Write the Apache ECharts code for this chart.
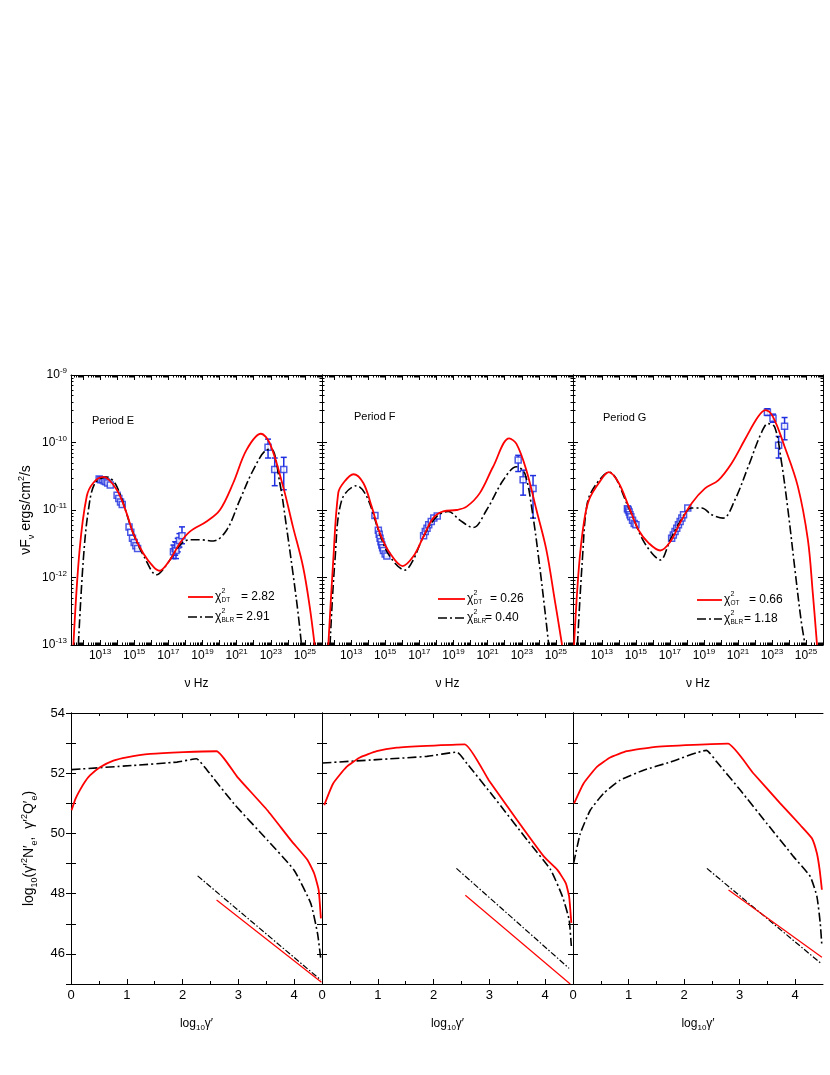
<!DOCTYPE html>
<html>
<head>
<meta charset="utf-8">
<script src="https://cdn.jsdelivr.net/npm/echarts@6/dist/echarts.min.js"></script>
<style>
html,body{margin:0;padding:0;background:#fff;}
#chart{width:830px;height:1075px;}
</style>
</head>
<body>
<div id="chart"></div>
<script>
// ---------- tick labels ----------
const sedXLabels = [13, 15, 17, 19, 21, 23, 25];          // log10(nu)
const sedYLabels = [-13, -12, -11, -10, -9];              // log10(nuFnu)
const eldXLabels = [0, 1, 2, 3, 4];                       // log10(gamma')
const eldYLabels = [46, 48, 50, 52, 54];
const periodNames = ['Period E', 'Period F', 'Period G'];
const chiDT = ['2.82', '0.26', '0.66'];
const chiDTsub = ['DT', 'DT', 'OT'];
const chiBLR = ['2.91', '0.40', '1.18'];

// ---------- Period E SED (log10 nu, log10 nuFnu) ----------
const E_dt_nu  = [11.44, 11.8, 12.22, 12.6, 13.19, 13.98, 14.56, 14.95, 15.53, 16.12, 16.47, 17.09, 17.68, 18.26, 19.24, 20.02, 20.8, 21.58, 22.42, 22.94, 23.72, 24.3, 24.89, 25.28, 25.57];
const E_dt_f   = [-13.0, -11.6, -10.80, -10.6, -10.51, -10.70, -11.05, -11.35, -11.64, -11.84, -11.90, -11.74, -11.49, -11.32, -11.17, -11.0, -10.60, -10.11, -9.87, -10.01, -10.65, -11.25, -11.84, -12.43, -13.0];
const E_blr_nu = [11.73, 12.02, 12.32, 12.71, 13.39, 13.98, 14.95, 15.6, 16.31, 16.9, 17.68, 18.26, 18.84, 19.63, 20.41, 21.19, 21.97, 22.75, 23.04, 23.53, 23.92, 24.3, 24.6, 24.8];
const E_blr_f  = [-13.0, -11.74, -11.0, -10.6, -10.51, -10.65, -11.35, -11.70, -11.96, -11.81, -11.52, -11.44, -11.44, -11.46, -11.30, -10.85, -10.41, -10.11, -10.1, -10.60, -11.25, -11.94, -12.53, -13.0];
const E_obs_nu = [12.95, 13.05, 13.15, 13.25, 13.35, 13.45, 13.6, 14.0, 14.1, 14.2, 14.3, 14.7, 14.8, 14.9, 15.0, 15.1, 15.2, 17.3, 17.4, 17.45, 17.55, 17.65, 17.8, 22.84, 23.23, 23.76];
const E_obs_f  = [-10.54, -10.55, -10.55, -10.57, -10.58, -10.60, -10.63, -10.78, -10.83, -10.88, -10.92, -11.25, -11.33, -11.42, -11.48, -11.53, -11.57, -11.62, -11.57, -11.60, -11.52, -11.45, -11.38, -10.07, -10.40, -10.40];
const E_obs_hi = [null, null, null, null, null, null, null, null, null, null, null, null, null, null, null, null, null, -11.52, -11.47, -11.48, -11.42, -11.35, -11.25, -9.95, -10.23, -10.22];
const E_obs_lo = [null, null, null, null, null, null, null, null, null, null, null, null, null, null, null, null, null, -11.72, -11.67, -11.72, -11.62, -11.55, -11.50, -10.23, -10.64, -10.70];

// ---------- Period F SED ----------
const F_dt_nu  = [11.67, 11.96, 12.25, 12.55, 13.14, 13.72, 14.21, 14.70, 15.28, 16.02, 16.64, 17.23, 17.81, 18.40, 19.18, 19.77, 20.54, 21.32, 22.26, 22.69, 23.27, 23.86, 24.44, 24.93, 25.36];
const F_dt_f   = [-13.0, -11.74, -10.75, -10.60, -10.47, -10.60, -10.95, -11.35, -11.64, -11.83, -11.69, -11.40, -11.12, -11.02, -11.0, -10.95, -10.75, -10.36, -9.94, -10.02, -10.41, -11.0, -11.59, -12.33, -13.0];
const F_blr_nu = [11.77, 12.06, 12.46, 13.33, 13.92, 14.70, 15.28, 16.16, 16.64, 17.23, 18.01, 18.69, 19.37, 20.15, 20.94, 21.91, 22.69, 23.18, 23.66, 24.05, 24.35, 24.58];
const F_blr_f  = [-13.0, -11.74, -10.85, -10.64, -10.80, -11.37, -11.69, -11.89, -11.74, -11.40, -11.10, -11.02, -11.15, -11.26, -11.0, -10.56, -10.36, -10.46, -11.10, -11.84, -12.48, -13.0];
const F_obs_nu = [14.40, 14.6, 14.65, 14.7, 14.75, 14.8, 14.85, 14.9, 15.0, 15.1, 17.25, 17.35, 17.45, 17.55, 17.7, 17.85, 18.05, 22.79, 23.08, 23.66];
const F_obs_f  = [-11.08, -11.30, -11.36, -11.42, -11.47, -11.52, -11.56, -11.60, -11.65, -11.68, -11.38, -11.32, -11.27, -11.22, -11.17, -11.12, -11.09, -10.26, -10.55, -10.68];
const F_obs_hi = [null, null, null, null, null, null, null, null, null, null, null, null, null, null, null, null, null, -10.19, -10.41, -10.49];
const F_obs_lo = [null, null, null, null, null, null, null, null, null, null, null, null, null, null, null, null, null, -10.43, -10.78, -11.12];

// ---------- Period G SED ----------
const G_dt_nu  = [11.36, 11.65, 11.95, 12.24, 12.82, 13.41, 13.99, 14.58, 15.16, 15.75, 16.43, 17.02, 17.60, 18.28, 19.06, 19.84, 20.62, 21.40, 22.18, 22.61, 23.06, 23.74, 24.52, 25.11, 25.40, 25.65];
const G_dt_f   = [-13.0, -11.84, -11.17, -10.85, -10.60, -10.44, -10.60, -10.95, -11.30, -11.49, -11.60, -11.47, -11.19, -10.90, -10.68, -10.56, -10.31, -9.96, -9.62, -9.52, -9.62, -10.06, -10.65, -11.44, -12.23, -13.0];
const G_blr_nu = [11.56, 11.85, 12.14, 12.63, 13.41, 14.58, 15.36, 15.94, 16.43, 17.02, 17.60, 18.28, 18.87, 19.45, 20.13, 20.82, 21.60, 22.37, 22.77, 23.16, 23.54, 23.94, 24.33, 24.71, 24.95];
const G_blr_f  = [-13.0, -11.74, -10.90, -10.63, -10.44, -10.97, -11.42, -11.64, -11.74, -11.44, -11.17, -10.97, -10.97, -11.07, -11.12, -10.85, -10.36, -9.86, -9.72, -9.77, -10.26, -11.0, -11.84, -12.63, -13.0];
const G_obs_nu = [14.5, 14.55, 14.6, 14.65, 14.7, 14.8, 14.9, 15.0, 17.1, 17.2, 17.3, 17.4, 17.5, 17.6, 17.7, 17.8, 18.05, 22.73, 23.06, 23.39, 23.74];
const G_obs_f  = [-10.98, -11.0, -11.03, -11.07, -11.10, -11.15, -11.20, -11.22, -11.42, -11.37, -11.32, -11.27, -11.22, -11.17, -11.12, -11.07, -10.97, -9.55, -9.64, -10.04, -9.76];
const G_obs_hi = [null, null, null, null, null, null, null, null, null, null, null, null, null, null, null, null, null, -9.50, -9.58, -9.91, -9.63];
const G_obs_lo = [null, null, null, null, null, null, null, null, null, null, null, null, null, null, null, null, null, -9.60, -9.70, -10.23, -9.96];

// ---------- Electron distributions (log10 gamma', log10 value) ----------
const E_NeDT_x  = [0.01, 0.08, 0.16, 0.25, 0.34, 0.52, 0.76, 1.0, 1.42, 2.02, 2.61, 2.98, 3.52, 3.94, 4.24, 4.36, 4.44, 4.48];
const E_NeDT_y  = [50.77, 51.15, 51.44, 51.72, 51.93, 52.20, 52.42, 52.53, 52.64, 52.70, 52.73, 51.88, 50.77, 49.78, 49.12, 48.67, 48.12, 47.18];
const E_NeBLR_x = [0.01, 1.12, 1.90, 2.25, 2.44, 2.92, 3.52, 4.0, 4.30, 4.42, 4.48];
const E_NeBLR_y = [52.12, 52.26, 52.37, 52.48, 52.10, 50.99, 49.78, 48.78, 47.67, 46.68, 45.8];
const E_QDT_x   = [2.61, 4.49];
const E_QDT_y   = [47.79, 45.06];
const E_QBLR_x  = [2.27, 4.48];
const E_QBLR_y  = [48.59, 45.13];

const F_NeDT_x  = [0.04, 0.20, 0.44, 0.68, 0.98, 1.34, 1.88, 2.56, 2.99, 3.50, 3.98, 4.22, 4.37, 4.43, 4.47];
const F_NeDT_y  = [50.94, 51.66, 52.21, 52.52, 52.73, 52.85, 52.91, 52.96, 51.77, 50.44, 49.23, 48.79, 48.35, 47.91, 47.03];
const F_NeBLR_x = [0.01, 0.98, 1.88, 2.42, 2.60, 3.08, 3.68, 4.10, 4.31, 4.43, 4.47];
const F_NeBLR_y = [52.34, 52.45, 52.56, 52.70, 52.32, 51.21, 49.78, 48.79, 47.91, 47.14, 46.26];
const F_QDT_x   = [2.57, 4.45];
const F_QDT_y   = [47.95, 45.0];
const F_QBLR_x  = [2.41, 4.43];
const F_QBLR_y  = [48.84, 45.52];

const G_NeDT_x  = [0.02, 0.19, 0.43, 0.67, 0.97, 1.45, 2.17, 2.79, 3.25, 3.73, 4.09, 4.30, 4.39, 4.44, 4.48];
const G_NeDT_y  = [51.0, 51.66, 52.21, 52.52, 52.73, 52.87, 52.94, 52.98, 51.99, 51.0, 50.28, 49.84, 49.34, 48.79, 48.13];
const G_NeBLR_x = [0.01, 0.13, 0.31, 0.55, 0.85, 1.27, 1.75, 2.40, 2.59, 3.01, 3.49, 3.97, 4.27, 4.39, 4.45, 4.48];
const G_NeBLR_y = [49.0, 49.99, 50.77, 51.33, 51.77, 52.10, 52.37, 52.76, 52.37, 51.44, 50.33, 49.23, 48.57, 47.91, 47.03, 46.26];
const G_QDT_x   = [2.80, 4.48];
const G_QDT_y   = [48.12, 45.89];
const G_QBLR_x  = [2.41, 4.46];
const G_QBLR_y  = [48.84, 45.69];

// ---------- build ----------
const RED = '#ff0000', BLACK = '#000000', BLUE = '#1f2fe0';
const FONT = 'Liberation Sans, Arial, sans-serif';
const DASHDOT = [9, 3, 2, 3];
const zip = (a, b) => a.map((v, i) => [v, b[i]]);

const sedSets = [
  {dt: zip(E_dt_nu, E_dt_f), blr: zip(E_blr_nu, E_blr_f), nu: E_obs_nu, f: E_obs_f, hi: E_obs_hi, lo: E_obs_lo},
  {dt: zip(F_dt_nu, F_dt_f), blr: zip(F_blr_nu, F_blr_f), nu: F_obs_nu, f: F_obs_f, hi: F_obs_hi, lo: F_obs_lo},
  {dt: zip(G_dt_nu, G_dt_f), blr: zip(G_blr_nu, G_blr_f), nu: G_obs_nu, f: G_obs_f, hi: G_obs_hi, lo: G_obs_lo}
];
const eldSets = [
  {ndt: zip(E_NeDT_x, E_NeDT_y), nblr: zip(E_NeBLR_x, E_NeBLR_y), qdt: zip(E_QDT_x, E_QDT_y), qblr: zip(E_QBLR_x, E_QBLR_y)},
  {ndt: zip(F_NeDT_x, F_NeDT_y), nblr: zip(F_NeBLR_x, F_NeBLR_y), qdt: zip(F_QDT_x, F_QDT_y), qblr: zip(F_QBLR_x, F_QBLR_y)},
  {ndt: zip(G_NeDT_x, G_NeDT_y), nblr: zip(G_NeBLR_x, G_NeBLR_y), qdt: zip(G_QDT_x, G_QDT_y), qblr: zip(G_QBLR_x, G_QBLR_y)}
];

const SX = [11.3, 26], SY = [-13, -9], EX = [0, 4.5], EY = [45, 54];
// tick positions (decorative)
const sedXMajor = []; for (let n = 12; n <= 25; n++) sedXMajor.push(n);
const sedXMinor = []; for (let n = 11; n <= 25; n++) for (let k = 2; k <= 9; k++) { const v = n + Math.log10(k); if (v > SX[0] && v < SX[1]) sedXMinor.push(v); }
const sedYMajor = sedYLabels;
const sedYMinor = []; for (let n = -13; n < -9; n++) for (let k = 2; k <= 9; k++) sedYMinor.push(n + Math.log10(k));
const eldXMinor = [0.5, 1.5, 2.5, 3.5];
const eldYTicks = [45, 46, 47, 48, 49, 50, 51, 52, 53, 54];

const grids = [];
const lefts = [71, 322, 573], widths = [251, 251, 250];
for (let i = 0; i < 3; i++) grids.push({left: lefts[i], top: 375, width: widths[i], height: 270});
for (let i = 0; i < 3; i++) grids.push({left: lefts[i], top: 713, width: widths[i], height: 271});

const xAxes = [], yAxes = [];
const axLine = {show: true, lineStyle: {color: '#000', width: 1}};
const noLine = {show: false};
const mk = (o) => Object.assign({type: 'value', splitLine: {show: false}, axisLabel: {show: false}, axisLine: noLine, silent: true}, o);
const supRich = {
  b: {fontSize: 12, fontFamily: FONT, color: '#000', lineHeight: 16},
  s: {fontSize: 8, fontFamily: FONT, color: '#000', verticalAlign: 'top'},
  u: {fontSize: 8, fontFamily: FONT, color: '#000', verticalAlign: 'bottom'}
};
const titleRich = {
  b: {fontSize: 14, fontFamily: FONT, color: '#000', lineHeight: 19},
  s: {fontSize: 9, fontFamily: FONT, color: '#000', verticalAlign: 'top'},
  u: {fontSize: 9, fontFamily: FONT, color: '#000', verticalAlign: 'bottom'}
};

const sedXIdx = [], sedYIdx = [], eldXIdx = [], eldYIdx = [];
for (let i = 0; i < 3; i++) {
  const g = i;
  sedXIdx.push(xAxes.length);
  xAxes.push(mk({gridIndex: g, min: SX[0], max: SX[1], position: 'bottom', axisLine: axLine,
    axisTick: {show: true, inside: true, length: 5, customValues: sedXMajor, lineStyle: {color: '#000'}},
    axisLabel: {show: true, customValues: sedXLabels, margin: 3, formatter: v => '{b|10}{s|' + v + '}', rich: supRich},
    name: '{b|ν Hz}', nameLocation: 'middle', nameGap: 31, nameTextStyle: {rich: supRich}}));
  xAxes.push(mk({gridIndex: g, min: SX[0], max: SX[1], position: 'bottom',
    axisTick: {show: true, inside: true, length: 2.5, customValues: sedXMinor, lineStyle: {color: '#000'}}}));
  xAxes.push(mk({gridIndex: g, min: SX[0], max: SX[1], position: 'top', axisLine: axLine,
    axisTick: {show: true, inside: true, length: 5, customValues: sedXMajor, lineStyle: {color: '#000'}}}));
  xAxes.push(mk({gridIndex: g, min: SX[0], max: SX[1], position: 'top',
    axisTick: {show: true, inside: true, length: 2.5, customValues: sedXMinor, lineStyle: {color: '#000'}}}));

  sedYIdx.push(yAxes.length);
  const yMain = mk({gridIndex: g, min: SY[0], max: SY[1], position: 'left', axisLine: axLine,
    axisTick: {show: true, inside: true, length: 5, customValues: sedYMajor, lineStyle: {color: '#000'}}});
  if (i === 0) {
    yMain.axisLabel = {show: true, customValues: sedYLabels, margin: 4, formatter: v => '{b|10}{s|' + v + '}', rich: supRich};
    yMain.name = '{b|νF}{u|ν}{b| ergs/cm}{s|2}{b|/s}';
    yMain.nameLocation = 'middle'; yMain.nameGap = 35; yMain.nameRotate = 90;
    yMain.nameTextStyle = {rich: titleRich};
  }
  yAxes.push(yMain);
  yAxes.push(mk({gridIndex: g, min: SY[0], max: SY[1], position: 'left',
    axisTick: {show: true, inside: true, length: 2.5, customValues: sedYMinor, lineStyle: {color: '#000'}}}));
  yAxes.push(mk({gridIndex: g, min: SY[0], max: SY[1], position: 'right', axisLine: axLine,
    axisTick: {show: true, inside: true, length: 5, customValues: sedYMajor, lineStyle: {color: '#000'}}}));
  yAxes.push(mk({gridIndex: g, min: SY[0], max: SY[1], position: 'right',
    axisTick: {show: true, inside: true, length: 2.5, customValues: sedYMinor, lineStyle: {color: '#000'}}}));
}
for (let i = 0; i < 3; i++) {
  const g = 3 + i;
  eldXIdx.push(xAxes.length);
  xAxes.push(mk({gridIndex: g, min: EX[0], max: EX[1], position: 'bottom', axisLine: axLine,
    axisTick: {show: true, inside: true, length: 5, customValues: eldXLabels, lineStyle: {color: '#000'}},
    axisLabel: {show: true, customValues: eldXLabels, margin: 5, fontSize: 13, fontFamily: FONT, color: '#000'},
    name: '{b|log}{u|10}{b|γ′}', nameLocation: 'middle', nameGap: 32, nameTextStyle: {rich: supRich}}));
  xAxes.push(mk({gridIndex: g, min: EX[0], max: EX[1], position: 'bottom',
    axisTick: {show: true, inside: true, length: 3, customValues: eldXMinor, lineStyle: {color: '#000'}}}));
  xAxes.push(mk({gridIndex: g, min: EX[0], max: EX[1], position: 'top', axisLine: axLine,
    axisTick: {show: true, inside: true, length: 5, customValues: eldXLabels, lineStyle: {color: '#000'}}}));
  xAxes.push(mk({gridIndex: g, min: EX[0], max: EX[1], position: 'top',
    axisTick: {show: true, inside: true, length: 3, customValues: eldXMinor, lineStyle: {color: '#000'}}}));

  eldYIdx.push(yAxes.length);
  const yMain = mk({gridIndex: g, min: EY[0], max: EY[1], position: 'left', axisLine: axLine,
    axisTick: {show: true, inside: true, length: 5, customValues: eldYTicks, lineStyle: {color: '#000'}}});
  if (i === 0) {
    yMain.axisLabel = {show: true, customValues: eldYLabels, margin: 6, fontSize: 13, fontFamily: FONT, color: '#000'};
    yMain.name = '{b|log}{u|10}{b|(γ′}{s|2}{b|N′}{u|e}{b|,  γ′}{s|2}{b|Q′}{u|e}{b|)}';
    yMain.nameLocation = 'middle'; yMain.nameGap = 32; yMain.nameRotate = 90;
    yMain.nameTextStyle = {rich: titleRich};
  }
  yAxes.push(yMain);
  yAxes.push(mk({gridIndex: g, min: EY[0], max: EY[1], position: 'right', axisLine: axLine,
    axisTick: {show: true, inside: true, length: 5, customValues: eldYTicks, lineStyle: {color: '#000'}}}));
}

const series = [];
const errRender = (params, api) => {
  const x = api.value(0), lo = api.value(1), hi = api.value(2);
  const p1 = api.coord([x, hi]), p2 = api.coord([x, lo]);
  const w = 3, st = {stroke: BLUE, lineWidth: 1.5};
  return {type: 'group', children: [
    {type: 'line', shape: {x1: p1[0], y1: p1[1], x2: p2[0], y2: p2[1]}, style: st},
    {type: 'line', shape: {x1: p1[0] - w, y1: p1[1], x2: p1[0] + w, y2: p1[1]}, style: st},
    {type: 'line', shape: {x1: p2[0] - w, y1: p2[1], x2: p2[0] + w, y2: p2[1]}, style: st}
  ]};
};
sedSets.forEach((s, i) => {
  const xi = sedXIdx[i], yi = sedYIdx[i];
  const errs = [];
  s.nu.forEach((v, k) => { if (s.hi[k] !== null) errs.push([v, s.lo[k], s.hi[k]]); });
  series.push({type: 'custom', xAxisIndex: xi, yAxisIndex: yi, renderItem: errRender, data: errs, encode: {x: 0, y: [1, 2]}, z: 3, silent: true});
  series.push({type: 'scatter', xAxisIndex: xi, yAxisIndex: yi, data: zip(s.nu, s.f), symbol: 'rect', symbolSize: 6,
    itemStyle: {color: '#fff', borderColor: BLUE, borderWidth: 1.5}, z: 4, silent: true});
  series.push({type: 'line', name: 'BLR' + i, xAxisIndex: xi, yAxisIndex: yi, data: s.blr, smooth: 0.35, showSymbol: false, symbol: 'none',
    lineStyle: {color: BLACK, width: 1.6, type: DASHDOT}, z: 5, silent: true});
  series.push({type: 'line', name: 'DT' + i, xAxisIndex: xi, yAxisIndex: yi, data: s.dt, smooth: 0.35, showSymbol: false, symbol: 'none',
    lineStyle: {color: RED, width: 1.8}, z: 6, silent: true});
});
eldSets.forEach((s, i) => {
  const xi = eldXIdx[i], yi = eldYIdx[i];
  series.push({type: 'line', xAxisIndex: xi, yAxisIndex: yi, data: s.nblr, smooth: 0.15, showSymbol: false, symbol: 'none',
    lineStyle: {color: BLACK, width: 1.6, type: DASHDOT}, silent: true});
  series.push({type: 'line', xAxisIndex: xi, yAxisIndex: yi, data: s.ndt, smooth: 0.15, showSymbol: false, symbol: 'none',
    lineStyle: {color: RED, width: 1.8}, silent: true});
  series.push({type: 'line', xAxisIndex: xi, yAxisIndex: yi, data: s.qblr, showSymbol: false, symbol: 'none',
    lineStyle: {color: BLACK, width: 1.2, type: [6, 2, 1.5, 2]}, silent: true});
  series.push({type: 'line', xAxisIndex: xi, yAxisIndex: yi, data: s.qdt, showSymbol: false, symbol: 'none',
    lineStyle: {color: RED, width: 1.2}, silent: true});
});

// ---------- annotations (period labels + legends) ----------
const graphic = [];
const periodPos = [[92, 421], [354, 417], [603, 418]];
periodPos.forEach((p, i) => graphic.push({type: 'text', x: p[0], y: p[1],
  style: {text: periodNames[i], font: '11px ' + FONT, fill: '#000', verticalAlign: 'middle'}}));
// [lineX0, lineX1, yRed, yBlack, valRedX, valBlkX]
const legPos = [[188, 213, 597, 617, 241, 236], [438, 465, 599, 618, 490, 485], [697, 722, 600, 619, 749, 744]];
const chi = (x, y, sub, val, vx) => {
  graphic.push({type: 'text', x: x, y: y, style: {text: 'χ', font: '12px ' + FONT, fill: '#000', verticalAlign: 'middle'}});
  graphic.push({type: 'text', x: x + 6.5, y: y - 6, style: {text: '2', font: '7px ' + FONT, fill: '#000', verticalAlign: 'middle'}});
  graphic.push({type: 'text', x: x + 6.5, y: y + 3.5, style: {text: sub, font: '6.5px ' + FONT, fill: '#000', verticalAlign: 'middle'}});
  graphic.push({type: 'text', x: vx, y: y, style: {text: '= ' + val, font: '12px ' + FONT, fill: '#000', verticalAlign: 'middle'}});
};
legPos.forEach((p, i) => {
  graphic.push({type: 'line', shape: {x1: p[0], y1: p[2], x2: p[1], y2: p[2]}, style: {stroke: RED, lineWidth: 1.8}});
  graphic.push({type: 'line', shape: {x1: p[0], y1: p[3], x2: p[1], y2: p[3]}, style: {stroke: BLACK, lineWidth: 1.6, lineDash: DASHDOT}});
  chi(p[1] + 2, p[2], chiDTsub[i], chiDT[i], p[4]);
  chi(p[1] + 2, p[3], 'BLR', chiBLR[i], p[5]);
});

const chart = echarts.init(document.getElementById('chart'), null, {renderer: 'canvas'});
chart.setOption({
  backgroundColor: '#fff',
  animation: false,
  textStyle: {fontFamily: FONT},
  grid: grids,
  xAxis: xAxes,
  yAxis: yAxes,
  series: series,
  graphic: graphic
});
</script>
</body>
</html>
